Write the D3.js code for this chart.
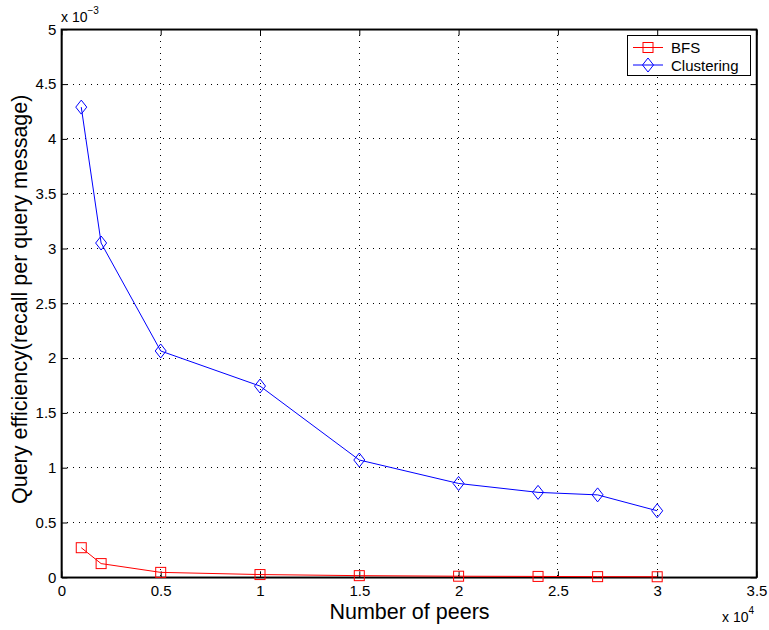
<!DOCTYPE html>
<html><head><meta charset="utf-8">
<script src="https://cdn.jsdelivr.net/npm/d3@7"></script>
<style>body{margin:0;background:#fff}svg{display:block}text{font-family:"Liberation Sans",Arial,Helvetica,sans-serif;fill:#000}</style>
</head><body>
<svg id="c" width="769" height="630"></svg>
<script>
const peers = [1000, 2000, 5000, 10000, 15000, 20000, 24000, 27000, 30000];
const bfs = [0.27e-3, 0.125e-3, 0.045e-3, 0.025e-3, 0.015e-3, 0.01e-3, 0.008e-3, 0.006e-3, 0.005e-3];
const clustering = [4.29e-3, 3.05e-3, 2.065e-3, 1.745e-3, 1.07e-3, 0.856e-3, 0.775e-3, 0.752e-3, 0.607e-3];
const xTicks = [0, 5000, 10000, 15000, 20000, 25000, 30000, 35000];
const xTickLabels = ["0", "0.5", "1", "1.5", "2", "2.5", "3", "3.5"];
const yTicks = [0, 0.5e-3, 1e-3, 1.5e-3, 2e-3, 2.5e-3, 3e-3, 3.5e-3, 4e-3, 4.5e-3, 5e-3];
const yTickLabels = ["0", "0.5", "1", "1.5", "2", "2.5", "3", "3.5", "4", "4.5", "5"];
const seriesNames = ["BFS", "Clustering"];

const svg = d3.select("#c");
const L = 61.4, R = 756.5, T = 29.3, B = 577.3;
const x = d3.scaleLinear().domain([0, 35000]).range([L, R]);
const y = d3.scaleLinear().domain([0, 5e-3]).range([B, T]);

// grid
const g = svg.append("g");
g.selectAll(".gx").data(xTicks.slice(1, -1)).enter().append("line")
  .attr("x1", d => x(d)).attr("x2", d => x(d)).attr("y1", T).attr("y2", B)
  .attr("stroke", "#000").attr("stroke-width", 1).attr("stroke-dasharray", "1,5").attr("shape-rendering","crispEdges");
g.selectAll(".gy").data(yTicks.slice(1, -1)).enter().append("line")
  .attr("y1", d => y(d)).attr("y2", d => y(d)).attr("x1", L).attr("x2", R)
  .attr("stroke", "#000").attr("stroke-width", 1).attr("stroke-dasharray", "1,5").attr("shape-rendering","crispEdges");

// axes
const xa = d3.axisBottom(x).tickValues(xTicks).tickFormat((d, i) => xTickLabels[i]).tickSizeInner(-6).tickSizeOuter(0).tickPadding(8);
const ya = d3.axisLeft(y).tickValues(yTicks).tickFormat((d, i) => yTickLabels[i]).tickSizeInner(-6).tickSizeOuter(0).tickPadding(5);
svg.append("g").attr("transform", `translate(0,${B})`).call(xa);
svg.append("g").attr("transform", `translate(${L},0)`).call(ya);
const xt = d3.axisTop(x).tickValues(xTicks).tickFormat("").tickSizeInner(-6).tickSizeOuter(0);
const yr = d3.axisRight(y).tickValues(yTicks).tickFormat("").tickSizeInner(-6).tickSizeOuter(0);
svg.append("g").attr("transform", `translate(0,${T})`).call(xt);
svg.append("g").attr("transform", `translate(${R},0)`).call(yr);
svg.selectAll(".domain").attr("stroke", "#000").attr("stroke-width", 1.5);
svg.selectAll(".tick line").attr("stroke", "#000");
svg.selectAll(".tick text").style("font-size", "15px").attr("fill", "#000");

// frame
svg.append("rect").attr("x", L).attr("y", T).attr("width", R - L).attr("height", B - T)
  .attr("fill", "none").attr("stroke", "#000").attr("stroke-width", 1.5);

// lines
const line = d3.line().x((d, i) => x(peers[i])).y(d => y(d));
svg.append("path").datum(bfs).attr("d", line).attr("fill", "none").attr("stroke", "#ff0000").attr("stroke-width", 1);
svg.append("path").datum(clustering).attr("d", line).attr("fill", "none").attr("stroke", "#0000ff").attr("stroke-width", 1);

const sq = 5, dm = 7;
function square(sel, cx, cy, col) {
  sel.append("rect").attr("x", cx - sq).attr("y", cy - sq).attr("width", 2 * sq).attr("height", 2 * sq)
    .attr("fill", "none").attr("stroke", col).attr("stroke-width", 1);
}
function diamond(sel, cx, cy, col) {
  sel.append("path").attr("d", `M${cx},${cy - dm}L${cx + 5.5},${cy}L${cx},${cy + dm}L${cx - 5.5},${cy}Z`)
    .attr("fill", "none").attr("stroke", col).attr("stroke-width", 1);
}
bfs.forEach((v, i) => square(svg, x(peers[i]), y(v), "#ff0000"));
clustering.forEach((v, i) => diamond(svg, x(peers[i]), y(v), "#0000ff"));

// multipliers
const m1 = svg.append("text").attr("x", 61).attr("y", 22).style("font-size", "14px");
m1.append("tspan").text("x 10");
m1.append("tspan").attr("dy", -8).style("font-size", "10px").text("−3");
const m2 = svg.append("text").attr("x", 722).attr("y", 622).style("font-size", "14px");
m2.append("tspan").text("x 10");
m2.append("tspan").attr("dy", -8).style("font-size", "10px").text("4");

// axis labels
svg.append("text").attr("x", 409.5).attr("y", 619).attr("text-anchor", "middle").style("font-size", "21.5px").text("Number of peers");
svg.append("text").attr("transform", `translate(27,${(T + B) / 2 - 4}) rotate(-90)`).attr("text-anchor", "middle").style("font-size", "21.5px")
  .text("Query efficiency(recall per query message)");

// legend
const lg = svg.append("g");
lg.append("rect").attr("x", 627.5).attr("y", 35.5).attr("width", 123).attr("height", 40).attr("fill", "#fff").attr("stroke", "#000").attr("stroke-width", 1);
const cols = ["#ff0000", "#0000ff"];
seriesNames.forEach((n, i) => {
  const yy = 47.5 + i * 17.5;
  lg.append("line").attr("x1", 633).attr("x2", 663).attr("y1", yy).attr("y2", yy).attr("stroke", cols[i]);
  if (i === 0) square(lg, 648, yy, cols[i]); else diamond(lg, 648, yy, cols[i]);
  lg.append("text").attr("x", 671).attr("y", yy + 5.5).style("font-size", "15px").text(n);
});
</script>
</body></html>
